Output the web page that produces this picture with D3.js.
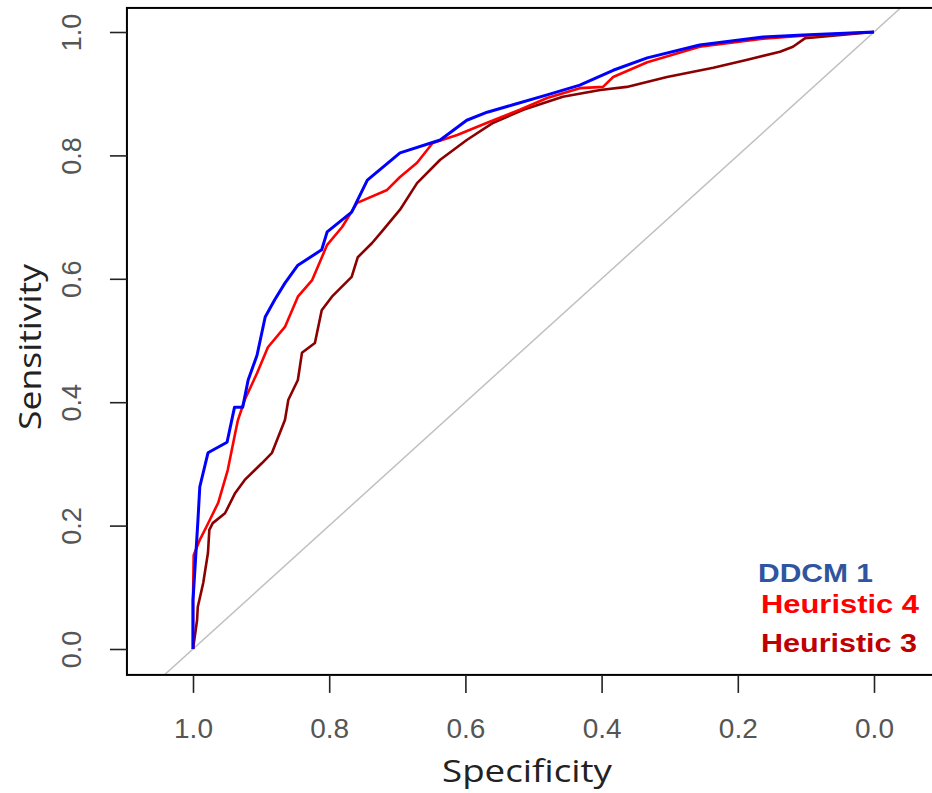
<!DOCTYPE html>
<html><head><meta charset="utf-8">
<script src="https://cdn.jsdelivr.net/npm/d3@7"></script>
<style>body{margin:0;background:#fff}</style>
</head><body>
<svg id="c" width="932" height="793"></svg>
<script>
// Data: [specificity, sensitivity]
const ddcm1 = [[1.0,0],[1.0,0.079],[0.993,0.204],[0.990,0.263],[0.978,0.318],[0.950,0.335],[0.939,0.392],[0.927,0.392],[0.919,0.436],[0.906,0.476],[0.894,0.538],[0.880,0.566],[0.865,0.593],[0.846,0.622],[0.811,0.647],[0.803,0.676],[0.767,0.708],[0.744,0.760],[0.696,0.804],[0.637,0.825],[0.598,0.857],[0.568,0.870],[0.530,0.882],[0.480,0.898],[0.432,0.914],[0.383,0.938],[0.333,0.958],[0.256,0.979],[0.163,0.992],[0.104,0.995],[0.0,1.0]];
const heuristic4 = [[1.0,0],[1.0,0.079],[0.999,0.152],[0.990,0.177],[0.979,0.201],[0.963,0.237],[0.949,0.290],[0.938,0.350],[0.934,0.371],[0.924,0.404],[0.906,0.447],[0.890,0.489],[0.865,0.522],[0.846,0.571],[0.825,0.598],[0.803,0.655],[0.781,0.684],[0.759,0.723],[0.715,0.744],[0.696,0.765],[0.671,0.788],[0.648,0.820],[0.612,0.833],[0.568,0.853],[0.520,0.874],[0.480,0.893],[0.432,0.909],[0.398,0.911],[0.383,0.927],[0.333,0.951],[0.256,0.976],[0.163,0.989],[0.104,0.994],[0.0,1.0]];
const heuristic3 = [[1.0,0],[0.997,0.023],[0.994,0.047],[0.993,0.068],[0.985,0.107],[0.978,0.156],[0.976,0.193],[0.971,0.204],[0.953,0.220],[0.938,0.253],[0.924,0.274],[0.899,0.301],[0.884,0.318],[0.865,0.371],[0.860,0.404],[0.846,0.436],[0.840,0.480],[0.821,0.496],[0.811,0.549],[0.796,0.571],[0.767,0.603],[0.758,0.635],[0.737,0.658],[0.721,0.679],[0.696,0.712],[0.671,0.755],[0.637,0.793],[0.598,0.825],[0.559,0.853],[0.515,0.874],[0.457,0.895],[0.402,0.906],[0.363,0.911],[0.304,0.927],[0.236,0.942],[0.186,0.955],[0.138,0.968],[0.119,0.976],[0.101,0.990],[0.0,1.0]];
const tickValues = [1.0,0.8,0.6,0.4,0.2,0.0];
const seriesNames = ["DDCM 1","Heuristic 4","Heuristic 3"];

const svg = d3.select("#c");
const x = d3.scaleLinear().domain([1,0]).range([193,874]);
const y = d3.scaleLinear().domain([0,1]).range([649,32]);
const xL = x(1.097), xR = x(-0.097), yT = y(1.039), yB = y(-0.042);

svg.append("defs").append("clipPath").attr("id","clip")
  .append("rect").attr("x",xL).attr("y",yT).attr("width",xR-xL).attr("height",yB-yT);

// diagonal
svg.append("line").attr("clip-path","url(#clip)")
  .attr("x1",x(1.2)).attr("y1",y(-0.2)).attr("x2",x(-0.2)).attr("y2",y(1.2))
  .attr("stroke","#c0c0c0").attr("stroke-width",1.5);

const line = d3.line().x(d=>x(d[0])).y(d=>y(d[1]));
const g = svg.append("g").attr("clip-path","url(#clip)");
g.append("path").datum(heuristic3).attr("d",line).attr("fill","none").attr("stroke","#8b0000").attr("stroke-width",2.6).attr("stroke-linejoin","round");
g.append("path").datum(heuristic4).attr("d",line).attr("fill","none").attr("stroke","#ff0000").attr("stroke-width",2.6).attr("stroke-linejoin","round");
g.append("path").datum(ddcm1).attr("d",line).attr("fill","none").attr("stroke","#0000ff").attr("stroke-width",3).attr("stroke-linejoin","round");

// box
svg.append("rect").attr("x",xL).attr("y",yT).attr("width",xR-xL).attr("height",yB-yT)
  .attr("fill","none").attr("stroke","#000").attr("stroke-width",2);

// x axis
const xa = svg.append("g").attr("transform",`translate(0,${yB})`)
  .call(d3.axisBottom(x).tickValues(tickValues).tickFormat(d3.format(".1f")).tickSize(18).tickSizeOuter(0));
xa.select(".domain").remove();
xa.selectAll(".tick line").attr("stroke","#222").attr("stroke-width",1.6);
xa.selectAll(".tick text").attr("y",63).attr("dy",0).attr("fill","#555")
  .style("font-family","'Liberation Sans',Arial,sans-serif").style("font-size","28px");

// y axis
const ya = svg.append("g").attr("transform",`translate(${xL},0)`)
  .call(d3.axisLeft(y).tickValues(tickValues).tickFormat(d3.format(".1f")).tickSize(17).tickSizeOuter(0));
ya.select(".domain").remove();
ya.selectAll(".tick line").attr("stroke","#222").attr("stroke-width",1.6);
ya.selectAll(".tick text").attr("x",0).attr("dy",0).attr("text-anchor","middle")
  .attr("transform","translate(-46,0) rotate(-90)").attr("y",0)
  .attr("fill","#555")
  .style("font-family","'Liberation Sans',Arial,sans-serif").style("font-size","27px");

// axis titles
svg.append("text").attr("x",527).attr("y",782).attr("text-anchor","middle")
  .attr("textLength",170).attr("lengthAdjust","spacingAndGlyphs")
  .style("font-family","'Open Sans',sans-serif").style("font-size","31px").attr("fill","#222")
  .text("Specificity");
svg.append("text").attr("transform","translate(41,347) rotate(-90)").attr("text-anchor","middle")
  .attr("textLength",166).attr("lengthAdjust","spacingAndGlyphs")
  .style("font-family","'Open Sans',sans-serif").style("font-size","31px").attr("fill","#222")
  .text("Sensitivity");

// legend
const legColors = ["#2f55a0","#ff0000","#c00000"];
const legY = [582,613,652];
const legX = [758,761,761];
const legW = [115,158,156];
seriesNames.forEach((n,i)=>{
  svg.append("text").attr("x",legX[i]).attr("y",legY[i])
    .attr("textLength",legW[i]).attr("lengthAdjust","spacingAndGlyphs")
    .style("font-family","'Liberation Sans',Arial,sans-serif").style("font-weight","bold").style("font-size","25px")
    .attr("fill",legColors[i]).text(n);
});
</script>
</body></html>
